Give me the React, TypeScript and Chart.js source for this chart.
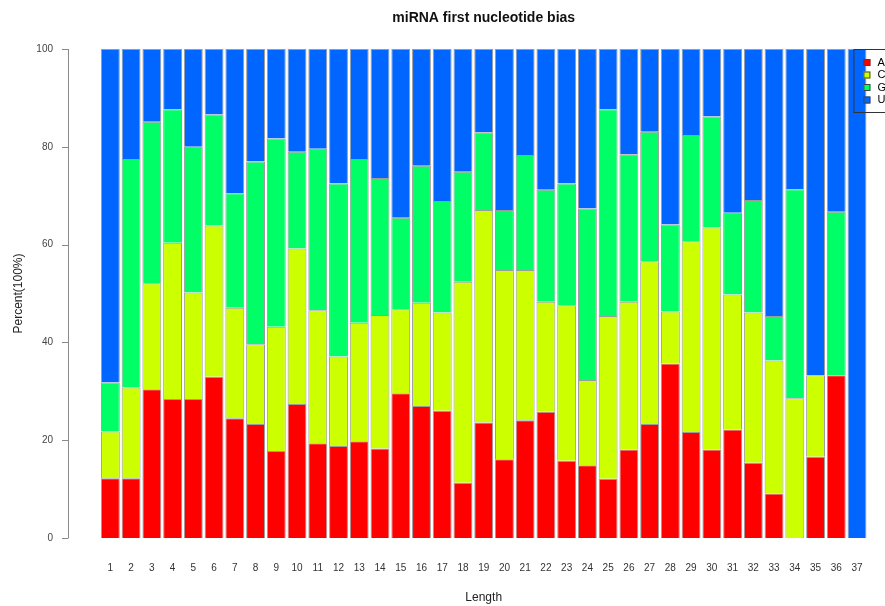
import React, { useEffect, useRef } from "react";
import { Chart, registerables } from "chart.js";

Chart.register(...registerables);

const lengths = Array.from({ length: 37 }, (_, i) => String(i + 1));
const seriesNames = ["A", "C", "G", "U"];
const seriesColors = ["#FF0000", "#CCFF00", "#00FF66", "#0066FF"];

const valuesA = [12.2, 12.2, 30.4, 28.4, 28.4, 33.0, 24.5, 23.3, 17.8, 27.4, 19.4, 18.8, 19.8, 18.3, 29.6, 27.0, 26.0, 11.3, 23.6, 16.1, 24.1, 25.8, 15.8, 14.9, 12.1, 18.1, 23.3, 35.7, 21.7, 18.1, 22.2, 15.4, 9.1, 0, 16.6, 33.3, 0];
const valuesC = [9.6, 18.6, 21.7, 32.0, 21.8, 30.9, 22.6, 16.3, 25.4, 31.8, 27.2, 18.3, 24.2, 27.3, 17.2, 21.1, 20.1, 41.1, 43.5, 38.7, 30.7, 22.5, 31.8, 17.4, 33.3, 30.2, 33.3, 10.6, 39.0, 45.4, 27.6, 30.7, 27.2, 28.6, 16.7, 0, 0];
const valuesG = [10.0, 46.7, 33.0, 27.3, 29.8, 22.7, 23.4, 37.4, 38.5, 19.8, 33.0, 35.4, 33.5, 28.0, 18.7, 28.0, 22.8, 22.5, 15.9, 12.3, 23.5, 22.9, 24.9, 35.1, 42.3, 30.2, 26.5, 17.8, 21.7, 22.7, 16.7, 23.0, 9.1, 42.7, 0, 33.4, 0];
const valuesU = [68.2, 22.5, 14.9, 12.3, 20.0, 13.4, 29.5, 23.0, 18.3, 21.0, 20.4, 27.5, 22.5, 26.4, 34.5, 23.9, 31.1, 25.1, 17.0, 32.9, 21.7, 28.8, 27.5, 32.6, 12.3, 21.5, 16.9, 35.9, 17.6, 13.8, 33.5, 30.9, 54.6, 28.7, 66.7, 33.3, 100];

const yTicks = [0, 20, 40, 60, 80, 100];

const FONT = "'Liberation Sans', Arial, Helvetica, sans-serif";

const rAxisPlugin = {
  id: "rAxis",
  afterDraw(chart: any) {
    const { ctx, chartArea, scales } = chart;
    const y = scales.y;
    const ax = chartArea.left - 32;
    ctx.save();
    ctx.strokeStyle = "#8a8a8a";
    ctx.lineWidth = 1;
    ctx.beginPath();
    ctx.moveTo(ax + 0.5, y.getPixelForValue(0));
    ctx.lineTo(ax + 0.5, y.getPixelForValue(100));
    for (const t of yTicks) {
      const py = Math.round(y.getPixelForValue(t)) + 0.5;
      ctx.moveTo(ax + 0.5, py);
      ctx.lineTo(ax - 6, py);
    }
    ctx.stroke();
    ctx.restore();
  },
};

const boxLegendPlugin = {
  id: "boxLegend",
  afterDraw(chart: any) {
    const { ctx, chartArea } = chart;
    const left = chartArea.right - 14;
    const top = chartArea.top;
    ctx.save();
    ctx.strokeStyle = "#333";
    ctx.lineWidth = 1;
    ctx.strokeRect(left + 0.5, top + 0.5, 120, 63);
    ctx.font = `11px ${FONT}`;
    ctx.textBaseline = "middle";
    chart.data.datasets.forEach((ds: any, i: number) => {
      const cy = top + 13.5 + i * 12.5;
      ctx.fillStyle = ds.backgroundColor;
      ctx.fillRect(left + 10, cy - 3.5, 7, 7);
      ctx.strokeStyle = "#444";
      ctx.strokeRect(left + 10.5, cy - 3, 6, 6);
      ctx.fillStyle = "#000";
      ctx.fillText(ds.label, left + 24, cy);
    });
    ctx.restore();
  },
};

export default function App() {
  const ref = useRef<HTMLCanvasElement | null>(null);

  useEffect(() => {
    if (!ref.current) return;
    const series = [valuesA, valuesC, valuesG, valuesU];
    const chart = new Chart(ref.current, {
      type: "bar",
      data: {
        labels: lengths,
        datasets: series.map((vals, i) => ({
          label: seriesNames[i],
          data: vals.map((v) => (v === 0 ? null : v)),
          backgroundColor: seriesColors[i],
          borderColor: "#9c9c9c",
          borderWidth: 1,
          barPercentage: 0.91,
          categoryPercentage: 1,
        })),
      },
      options: {
        animation: false,
        responsive: true,
        maintainAspectRatio: false,
        layout: { padding: { left: 0, right: 17.6, top: 0, bottom: 0 } },
        plugins: {
          legend: { display: false },
          tooltip: { enabled: false },
          title: {
            display: true,
            text: "miRNA first nucleotide bias",
            fullSize: false,
            color: "#111",
            font: { family: FONT, size: 14, weight: "bold" },
            padding: { top: 9.6, bottom: 22.6 },
          },
        },
        scales: {
          x: {
            stacked: true,
            offset: true,
            grid: { display: false, drawTicks: false },
            border: { display: false },
            ticks: { color: "#333", font: { family: FONT, size: 10 }, padding: 24, autoSkip: false, maxRotation: 0 },
            title: { display: true, text: "Length", color: "#222", font: { family: FONT, size: 12 }, padding: { top: 4, bottom: 1 } },
            afterFit: (s: any) => { s.height = 68; s.paddingLeft = 0; s.paddingRight = 0; },
          },
          y: {
            stacked: true,
            min: 0,
            max: 100,
            grid: { display: false, drawTicks: false },
            border: { display: false },
            ticks: { stepSize: 20, color: "#444", font: { family: FONT, size: 10 }, padding: 47 },
            title: { display: true, text: "Percent(100%)", color: "#222", font: { family: FONT, size: 12 }, padding: { top: 11, bottom: 4 } },
            afterFit: (s: any) => { s.width = 100; s.paddingTop = 0; s.paddingBottom = 0; },
          },
        },
      },
      plugins: [rAxisPlugin, boxLegendPlugin],
    });
    return () => chart.destroy();
  }, []);

  return (
    <div style={{ position: "fixed", left: 0, top: 0, width: 885, height: 606, overflow: "hidden", background: "#fff" }}>
      <canvas ref={ref} />
    </div>
  );
}
